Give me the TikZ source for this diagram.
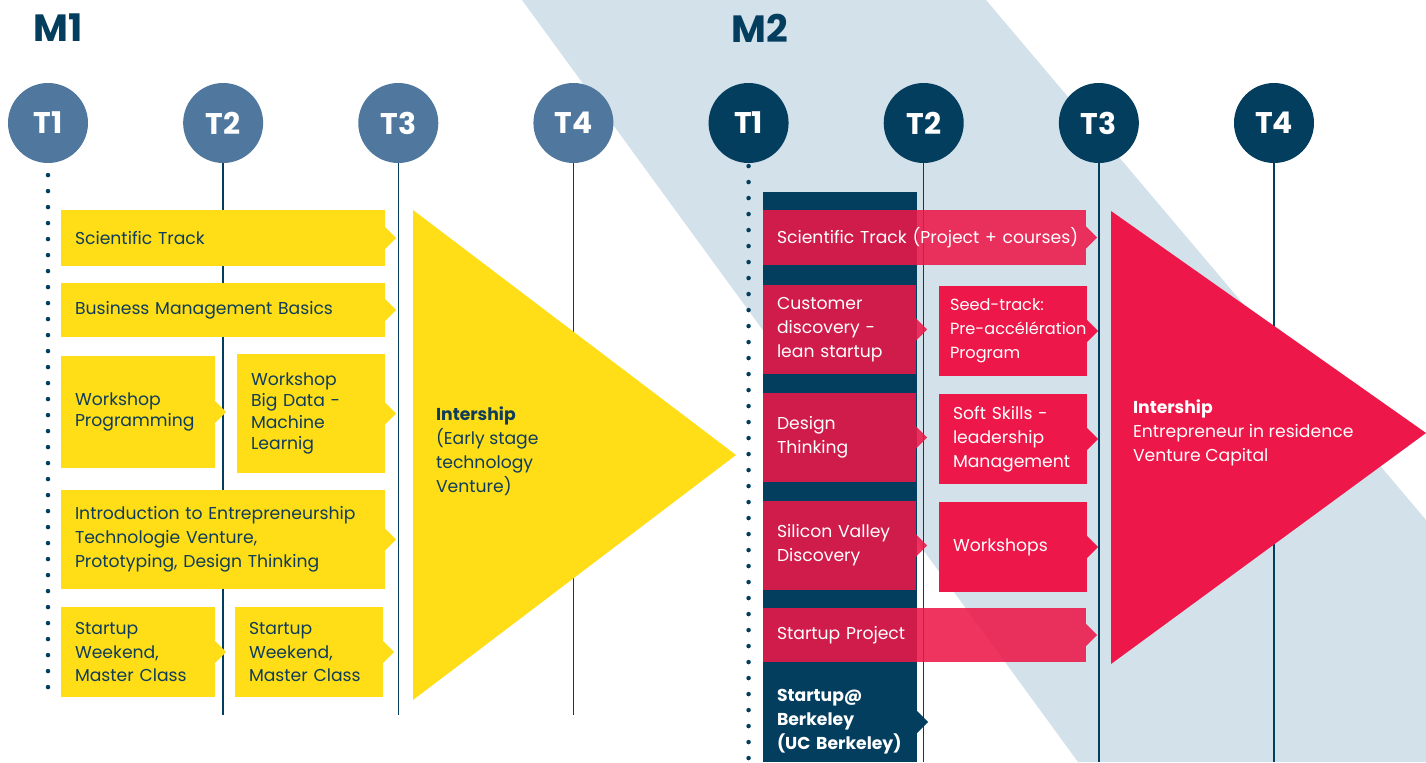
\documentclass[tikz,border=0pt]{standalone}
\usepackage{fontspec}
\setmainfont{Poppins}
\usetikzlibrary{positioning}

\definecolor{navy}{HTML}{043E5E}
\definecolor{steel}{HTML}{50779E}
\definecolor{yel}{HTML}{FFDE17}
\definecolor{rose}{HTML}{ED1849}
\definecolor{band}{HTML}{D3E1EB}
\definecolor{ink}{HTML}{0E3C5A}
\newcommand\boxfont{\fontsize{49}{68}\selectfont}

\begin{document}
\begin{tikzpicture}[x=1mm,y=-1mm,node distance=95mm,
    term/.style={circle,minimum size=80mm,inner sep=0pt,text=white,
                 font=\bfseries\fontsize{85}{85}\selectfont},
    bw/.style 2 args={minimum width=#1mm,text width=#1mm-28mm,minimum height=#2mm},
    card/.style={inner xsep=14mm,inner ysep=0pt,align=left,font=\boxfont},
    ybox/.style={card,fill=yel,text=ink},
    rbox/.style={card,fill=rose,fill opacity=0.88,text opacity=1,text=white},
    sbox/.style={card,fill=rose,text=white},
    dbox/.style={card,fill=navy,text=white,font=\boxfont\bfseries},
    tight/.style={font=\fontsize{49}{61}\selectfont},
    vline/.style={draw=navy,line width=1.5mm},
    dots/.style={draw=navy,line width=4.5mm,line cap=round,dash pattern=on 0pt off 16mm},
    itext/.style={anchor=west,inner sep=0pt,align=left,font=\boxfont},
    mlab/.style={text=navy,font=\bfseries\fontsize{108}{108}\selectfont}]

  \useasboundingbox (0,0) rectangle (1426,762);
  \fill[white] (0,0) rectangle (1426,762);
  \fill[band] (522,0) -- (986,0) -- (1426,520) -- (1426,762) -- (1078,762) -- cycle;

  \node[mlab] (m1) at (58,28) {M1};
  \node[mlab] (m2) at (760,28) {M2};

  \node[term,fill=steel] (a1) at (48,123) {T1};
  \node[term,fill=steel,right=of a1] (a2) {T2};
  \node[term,fill=steel,right=of a2] (a3) {T3};
  \node[term,fill=steel,right=of a3] (a4) {T4};
  \node[term,fill=navy,right=of a4]  (b1) {T1};
  \node[term,fill=navy,right=of b1]  (b2) {T2};
  \node[term,fill=navy,right=of b2]  (b3) {T3};
  \node[term,fill=navy,right=of b3]  (b4) {T4};

  \coordinate (end1) at (0,715);
  \coordinate (end2) at (0,762);
  \coordinate (dot1) at (0,697);
  \foreach \t in {a2,a3,a4} \draw[vline] (\t.south) -- (\t.south |- end1);
  \foreach \t in {b2,b3,b4} \draw[vline] (\t.south) -- (\t.south |- end2);
  \draw[dots] ([yshift=-12mm]a1.south) -- (a1.south |- dot1);
  \draw[dots] ([yshift=-3mm]b1.south) -- (b1.south |- end2);

  \node[ybox,bw={324}{56}] (sci1) at (223,238) {Scientific Track};
  \node[ybox,bw={324}{54}] (bus) at (223,310) {Business Management Basics};
  \node[ybox,tight,bw={154}{112}] (wsprog) at (138,412) {Workshop\\Programming};
  \node[ybox,tight,bw={148}{119}] (wsbig) at (311,413.5) {Workshop\\Big Data -\\Machine\\Learnig};
  \node[ybox,bw={324}{99}] (intro) at (223,539.5)
       {Introduction to Entrepreneurship\\Technologie Venture,\\Prototyping, Design Thinking};
  \node[ybox,bw={154}{90}] (sw1) at (138,652) {Startup\\Weekend,\\Master Class};
  \node[ybox,bw={148}{90}] (sw2) at (309,652) {Startup\\Weekend,\\Master Class};

  \node[fill=navy,minimum width=154mm,minimum height=570mm,inner sep=0pt,anchor=north west]
       (col) at (763,192) {};

  \node[rbox,bw={323}{55}] (sci2) at (924.5,237.5) {\mbox{Scientific Track (Project + courses)}};
  \node[rbox,bw={153}{89}] (cust) at (839.5,329.5) {Customer\\discovery -\\lean startup};
  \node[sbox,minimum width=148mm,text width=126mm,inner xsep=11mm,minimum height=90mm,
        font=\fontsize{46}{68}\selectfont]
       (seed) at (1013,331) {Seed-track:\\\mbox{Pre-accélération}\\Program};
  \node[rbox,bw={153}{89}] (design) at (839.5,437.5) {Design\\Thinking};
  \node[sbox,bw={148}{90}] (soft) at (1013,439) {Soft Skills -\\leadership\\Management};
  \node[rbox,bw={153}{89}] (sv) at (839.5,545.5) {Silicon Valley\\Discovery};
  \node[sbox,bw={148}{90}] (wsh) at (1013,547) {Workshops};
  \node[rbox,bw={323}{54}] (sproj) at (924.5,635) {Startup Project};
  \node[dbox,bw={154}{80}] (berk) at (840,722) {Startup@\\Berkeley\\(UC Berkeley)};

  \foreach \bx in {sci1,bus,wsprog,wsbig,intro,sw1,sw2}
    \fill[yel] (\bx.east) ++(0,-11) -- ++(11,11) -- ++(-11,11) -- cycle;
  \foreach \bx in {sci2,cust,design,sv,sproj}
    \fill[rose,fill opacity=0.88] (\bx.east) ++(0,-11) -- ++(11,11) -- ++(-11,11) -- cycle;
  \foreach \bx in {seed,soft,wsh}
    \fill[rose] (\bx.east) ++(0,-11) -- ++(11,11) -- ++(-11,11) -- cycle;
  \fill[navy] (berk.east) ++(0,-11) -- ++(11,11) -- ++(-11,11) -- cycle;

  \fill[yel] (413,210) -- (736,455) -- (413,700) -- cycle;
  \node[itext,text=ink] (int1) at (436,451)
       {\textbf{Intership}\\(Early stage\\technology\\Venture)};
  \fill[rose] (1111,211) -- (1426,433) -- (1111,664) -- cycle;
  \node[itext,text=white] (int2) at (1133,433)
       {\textbf{Intership}\\Entrepreneur in residence\\Venture Capital};
\end{tikzpicture}
\end{document}
